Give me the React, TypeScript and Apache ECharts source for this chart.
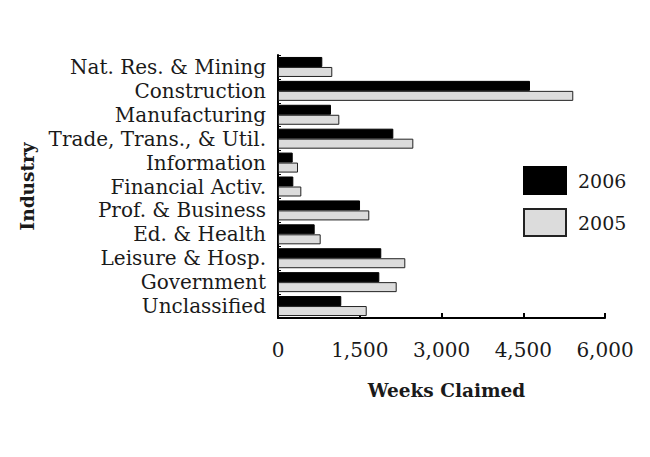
import React, { useEffect, useRef } from "react";
import * as echarts from "echarts";

const categories = [
  "Nat. Res. & Mining",
  "Construction",
  "Manufacturing",
  "Trade, Trans., & Util.",
  "Information",
  "Financial Activ.",
  "Prof. & Business",
  "Ed. & Health",
  "Leisure & Hosp.",
  "Government",
  "Unclassified",
];
const values2006 = [813, 4624, 972, 2116, 270, 281, 1505, 673, 1895, 1859, 1161];
const values2005 = [996, 5418, 1125, 2483, 367, 428, 1675, 783, 2336, 2178, 1628];
const xTicks = { min: 0, max: 6000, interval: 1500 };

const FONT = "DejaVu Serif";

export default function App() {
  const ref = useRef<HTMLDivElement>(null);
  useEffect(() => {
    const chart = echarts.init(ref.current!, null, { renderer: "svg" });
    chart.setOption({
      animation: false,
      backgroundColor: "#ffffff",
      textStyle: { fontFamily: FONT, color: "#1a1a1a" },
      grid: { left: 270, right: 53, top: 47, bottom: 147, containLabel: false },
      legend: {
        orient: "vertical",
        left: 510,
        top: 153,
        itemWidth: 42,
        itemHeight: 27,
        itemGap: 13,
        icon: "rect",
        textStyle: { fontFamily: FONT, fontSize: 19, color: "#1a1a1a", padding: [0, 0, 0, 7] },
        data: ["2006", "2005"],
      },
      xAxis: {
        type: "value",
        min: xTicks.min,
        max: xTicks.max,
        interval: xTicks.interval,
        name: "Weeks Claimed",
        nameLocation: "middle",
        nameGap: 63,
        nameTextStyle: {
          fontFamily: FONT,
          fontSize: 18.5,
          fontWeight: "bold",
          color: "#1a1a1a",
          padding: [0, 0, 0, 10],
        },
        axisLine: { show: true, lineStyle: { color: "#000", width: 2 } },
        axisTick: { show: true, inside: true, length: 5, lineStyle: { color: "#000", width: 2 } },
        splitLine: { show: false },
        axisLabel: {
          fontFamily: FONT,
          fontSize: 20,
          color: "#1a1a1a",
          margin: 22,
          formatter: (v: number) => v.toLocaleString("en-US"),
        },
      },
      yAxis: {
        type: "category",
        data: categories,
        inverse: true,
        name: "Industry",
        nameLocation: "middle",
        nameGap: 241,
        nameRotate: 90,
        nameTextStyle: { fontFamily: FONT, fontSize: 18.5, fontWeight: "bold", color: "#1a1a1a" },
        axisLine: { show: true, lineStyle: { color: "#000", width: 2 } },
        axisTick: { show: true, inside: true, length: 3, lineStyle: { color: "#000", width: 1 } },
        axisLabel: { fontFamily: FONT, fontSize: 20, color: "#1a1a1a", margin: 12, interval: 0 },
      },
      series: [
        {
          name: "2006",
          type: "bar",
          data: values2006,
          barWidth: 10,
          barGap: "0%",
          itemStyle: { color: "#000000", borderColor: "#000000", borderWidth: 1 },
        },
        {
          name: "2005",
          type: "bar",
          data: values2005,
          barWidth: 10,
          barGap: "0%",
          itemStyle: { color: "#dcdcdc", borderColor: "#222222", borderWidth: 1 },
        },
      ],
    });
    return () => chart.dispose();
  }, []);
  return <div ref={ref} style={{ width: 650, height: 457 }} />;
}
